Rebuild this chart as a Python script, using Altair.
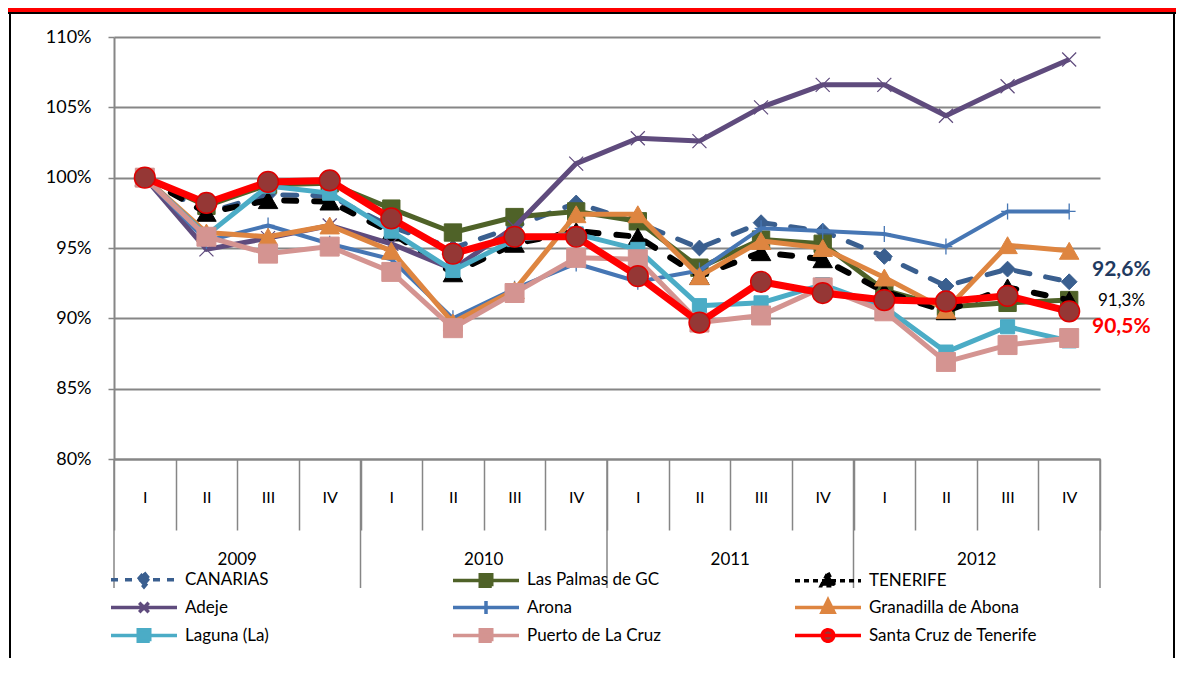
import altair as alt
import pandas as pd

# ---------------- data ----------------
QUARTERS = ["I", "II", "III", "IV"]
YEARS = ["2009", "2010", "2011", "2012"]
KEYS = [f"{y}-{q}" for y in YEARS for q in QUARTERS]

SERIES = ["CANARIAS", "Las Palmas de GC", "TENERIFE", "Adeje", "Arona",
          "Granadilla de Abona", "Laguna (La)", "Puerto de La Cruz",
          "Santa Cruz de Tenerife"]

canarias = [100.0, 97.5, 98.8, 98.7, 96.5, 95.0, 96.5, 98.2, 96.8, 95.0, 96.8, 96.2, 94.4, 92.3, 93.5, 92.6]
las_palmas = [100.0, 98.0, 99.5, 99.6, 97.8, 96.1, 97.2, 97.6, 96.9, 93.6, 95.6, 95.3, 92.0, 90.8, 91.1, 91.3]
tenerife = [100.0, 97.5, 98.4, 98.3, 96.1, 93.2, 95.3, 96.2, 95.8, 93.0, 94.7, 94.2, 91.9, 90.5, 92.2, 91.3]
adeje = [100.0, 94.9, 95.7, 96.6, 95.3, 93.5, 96.5, 101.0, 102.8, 102.6, 105.0, 106.6, 106.6, 104.4, 106.5, 108.4]
arona = [100.0, 95.5, 96.6, 95.3, 94.2, 90.0, 92.1, 93.9, 92.6, 93.4, 96.4, 96.2, 96.0, 95.1, 97.6, 97.6]
granadilla = [100.0, 96.1, 95.8, 96.6, 94.8, 89.7, 92.0, 97.4, 97.4, 93.0, 95.5, 95.0, 92.9, 90.6, 95.2, 94.8]
laguna = [100.0, 95.9, 99.4, 98.9, 96.2, 93.4, 95.6, 96.0, 94.9, 90.9, 91.1, 92.4, 90.8, 87.6, 89.4, 88.4]
puerto = [100.0, 95.8, 94.6, 95.1, 93.3, 89.3, 91.8, 94.3, 94.2, 89.7, 90.2, 92.2, 90.5, 86.9, 88.1, 88.6]
santa_cruz = [100.0, 98.2, 99.7, 99.8, 97.1, 94.6, 95.8, 95.8, 93.0, 89.7, 92.6, 91.8, 91.3, 91.2, 91.6, 90.5]

VALUES = [canarias, las_palmas, tenerife, adeje, arona, granadilla, laguna, puerto, santa_cruz]

# labelled end values
ANNOT_SERIES = ["CANARIAS", "TENERIFE", "Santa Cruz de Tenerife"]

# ---------------- styles ----------------
XPATH = "M-1,-1L1,1M-1,1L1,-1"
PLUSPATH = "M-0.8,0H0.8M0,-1V1"
STYLE = {
    "CANARIAS": dict(color="#3A5F8F", width=5, dash=[14, 16], shape="diamond", size=250,
                     fill="#3A5F8F", mstroke="#3A5F8F", mw=1, filled=True),
    "Las Palmas de GC": dict(color="#4F6228", width=5, dash=None, shape="square", size=300,
                             fill="#4F6228", mstroke="#4F6228", mw=1, filled=True),
    "TENERIFE": dict(color="#000000", width=6, dash=[12, 18], shape="triangle-up", size=380,
                     fill="#000000", mstroke="#000000", mw=1, filled=True),
    "Adeje": dict(color="#5F4B7D", width=5, dash=None, shape=XPATH, size=196,
                  fill=None, mstroke="#5F4B7D", mw=1.2, filled=False),
    "Arona": dict(color="#4676B4", width=4, dash=None, shape=PLUSPATH, size=256,
                  fill=None, mstroke="#4676B4", mw=1.3, filled=False),
    "Granadilla de Abona": dict(color="#DE8540", width=5, dash=None, shape="triangle-up", size=380,
                                fill="#DE8540", mstroke="#DE8540", mw=1, filled=True),
    "Laguna (La)": dict(color="#4BACC6", width=5, dash=None, shape="square", size=200,
                        fill="#4BACC6", mstroke="#4BACC6", mw=1, filled=True),
    "Puerto de La Cruz": dict(color="#D49491", width=5, dash=None, shape="square", size=360,
                              fill="#D49491", mstroke="#D49491", mw=1, filled=True),
    "Santa Cruz de Tenerife": dict(color="#FF0000", width=7, dash=None, shape="circle", size=430,
                                   fill="#953735", mstroke="#E00000", mw=1.5, filled=True),
}

# legend symbols: a 66px line with the marker in its middle (1 unit = 5px)
LEG_LINE = "M-6.6,0H6.6"
LEG_MARK = {
    "CANARIAS": "M0,-1.4L1.2,0L0,1.4L-1.2,0Z",
    "Las Palmas de GC": "M-1.15,-1.15H1.15V1.15H-1.15Z",
    "TENERIFE": "M0,-1.6L1.35,1H-1.35Z",
    "Adeje": "M-0.95,-0.95L0.95,0.95M-0.95,0.95L0.95,-0.95",
    "Arona": "M0,-1.3V1.3",
    "Granadilla de Abona": "M0,-1.5L1.2,0.95H-1.2Z",
    "Laguna (La)": "M-1.15,-1.15H1.15V1.15H-1.15Z",
    "Puerto de La Cruz": "M-1.15,-1.15H1.15V1.15H-1.15Z",
    "Santa Cruz de Tenerife": "M1.15,0A1.15,1.15,0,1,1,-1.15,0A1.15,1.15,0,1,1,1.15,0Z",
}
LEG_DASH = {"CANARIAS": [7, 7], "TENERIFE": [5, 4]}

GRAY = "#868686"
FONT = "Lato"
W, H = 986, 422
PAD_L, PAD_T, PAD_R, PAD_B = 106, 29, 76, 199

# ---------------- tables ----------------
rows = []
for name, vals in zip(SERIES, VALUES):
    for k, v in zip(KEYS, vals):
        rows.append({"series": name, "key": k, "value": v})
df = pd.DataFrame(rows)

x_scale = alt.Scale(type="band", domain=KEYS, paddingInner=0, paddingOuter=0)
y_scale = alt.Scale(domain=[80, 110], nice=False, zero=False)
x_axis = alt.Axis(title=None, labelExpr="split(datum.label, '-')[1]", labelAngle=0,
                  tickBand="extent", tickSize=71, tickColor=GRAY, tickWidth=1.5,
                  domainColor=GRAY, domainWidth=2, labelPadding=-33,
                  labelBaseline="middle", labelFont=FONT, labelFontSize=16,
                  labelColor="black", grid=False, labelOverlap=False)
y_axis = alt.Axis(title=None, values=[80, 85, 90, 95, 100, 105, 110],
                  labelExpr="datum.value + '%'", grid=True, gridColor=GRAY, gridWidth=2,
                  domainColor=GRAY, domainWidth=2, tickColor=GRAY, tickSize=6,
                  tickWidth=1.5, labelPadding=17, labelFont=FONT, labelFontSize=18,
                  labelColor="black")

X = alt.X("key:O", scale=x_scale, axis=x_axis)
Y = alt.Y("value:Q", scale=y_scale, axis=y_axis)

layers = []

# year dividers and labels (second level of the category axis)
year_start = pd.DataFrame({"key": [f"{y}-I" for y in YEARS]})
year_end = pd.DataFrame({"key": [KEYS[-1]]})
year_lab = pd.DataFrame({"key": [f"{y}-II" for y in YEARS], "year": YEARS})

layers.append(alt.Chart(year_start).mark_rule(color=GRAY, strokeWidth=1.5).encode(
    x=alt.X("key:O", scale=x_scale, axis=x_axis, bandPosition=0),
    y=alt.value(H), y2=alt.value(H + 129)))
layers.append(alt.Chart(year_end).mark_rule(color=GRAY, strokeWidth=1.5).encode(
    x=alt.X("key:O", scale=x_scale, axis=x_axis, bandPosition=1),
    y=alt.value(H), y2=alt.value(H + 129)))
layers.append(alt.Chart(year_lab).mark_text(font=FONT, fontSize=17, color="black",
                                            baseline="middle", align="center").encode(
    x=alt.X("key:O", scale=x_scale, axis=x_axis, bandPosition=1),
    y=alt.value(H + 101), text="year:N"))

# series, drawn one after the other (line, then its markers)
for name in SERIES:
    st = STYLE[name]
    sub = df[df.series == name]
    line_kw = dict(color=st["color"], strokeWidth=st["width"], strokeJoin="round")
    if st["dash"]:
        line_kw["strokeDash"] = st["dash"]
        line_kw["strokeCap"] = "round"
    layers.append(alt.Chart(sub).mark_line(**line_kw).encode(x=X, y=Y))
    pt_kw = dict(shape=st["shape"], size=st["size"], stroke=st["mstroke"],
                 strokeWidth=st["mw"], opacity=1, filled=st["filled"])
    if st["filled"]:
        pt_kw["fill"] = st["fill"]
        pt_kw["fillOpacity"] = 1
    else:
        pt_kw["fillOpacity"] = 0
    layers.append(alt.Chart(sub).mark_point(**pt_kw).encode(x=X, y=Y))

# end-value labels
ann = df[(df.key == KEYS[-1]) & (df.series.isin(ANNOT_SERIES))].copy()
ann["label"] = ann["value"].map(lambda v: f"{v:.1f}%".replace(".", ","))
ANN_STYLE = {
    "CANARIAS": dict(color="#1F3A60", fontSize=21, fontWeight="bold", dx=-8, dy=-12),
    "TENERIFE": dict(color="#000000", fontSize=17, fontWeight="normal", dx=-2, dy=1),
    "Santa Cruz de Tenerife": dict(color="#FF0000", fontSize=21, fontWeight="bold", dx=-8, dy=16),
}
for name in ANNOT_SERIES:
    s = ANN_STYLE[name]
    layers.append(alt.Chart(ann[ann.series == name]).mark_text(
        font=FONT, align="left", baseline="middle", **s).encode(
        x=alt.X("key:O", scale=x_scale, axis=x_axis, bandPosition=1), y=Y, text="label:N"))

# legend (built by Vega-Lite from an invisible layer)
leg = alt.Legend(title=None, orient="none", legendX=21.5, legendY=534, columns=3,
                 direction="horizontal",
                 columnPadding=92, rowPadding=-1, gridAlign="all", padding=0,
                 symbolSize=100, symbolStrokeWidth=3.5, symbolOpacity=1,
                 labelFont=FONT, labelFontSize=17, labelColor="black", labelOffset=32.5,
                 labelLimit=400, labelBaseline="middle")
leg_df = pd.DataFrame({"series": SERIES})
dom = SERIES
layers.append(alt.Chart(leg_df).mark_point(opacity=0, filled=True).encode(
    fill=alt.Fill("series:N", scale=alt.Scale(domain=dom, range=[STYLE[s]["fill"] or STYLE[s]["color"] for s in dom]), legend=leg),
    stroke=alt.Stroke("series:N", scale=alt.Scale(domain=dom, range=[STYLE[s]["color"] for s in dom]), legend=leg),
    shape=alt.Shape("series:N", scale=alt.Scale(domain=dom, range=[LEG_LINE + LEG_MARK[s] for s in dom]), legend=leg),
    strokeDash=alt.StrokeDash("series:N", scale=alt.Scale(domain=dom, range=[LEG_DASH.get(s, [1, 0]) for s in dom]), legend=leg),
))

# outer frame of the original picture
one = pd.DataFrame({"a": [0]})
TOTAL_W = PAD_L + W + PAD_R
TOTAL_H = PAD_T + H + PAD_B
layers.append(alt.Chart(one).mark_rect(color="#FF0000").encode(
    x=alt.value(-PAD_L), x2=alt.value(TOTAL_W - PAD_L), y=alt.value(-PAD_T), y2=alt.value(-PAD_T + 4)))
layers.append(alt.Chart(one).mark_rule(color="black", strokeWidth=2).encode(
    x=alt.value(-PAD_L), x2=alt.value(TOTAL_W - PAD_L), y=alt.value(-PAD_T + 5)))
layers.append(alt.Chart(one).mark_rule(color="black", strokeWidth=2).encode(
    x=alt.value(-PAD_L + 2), y=alt.value(-PAD_T + 4), y2=alt.value(TOTAL_H)))
layers.append(alt.Chart(one).mark_rule(color="black", strokeWidth=2).encode(
    x=alt.value(TOTAL_W - PAD_L - 2), y=alt.value(-PAD_T + 4), y2=alt.value(TOTAL_H)))

chart = alt.layer(*layers).properties(
    width=W, height=H,
    autosize=alt.AutoSizeParams(type="none"),
    padding={"left": PAD_L, "top": PAD_T, "right": PAD_R, "bottom": PAD_B},
    background="white",
).configure_view(stroke=None).configure_text(font=FONT)

chart.save("out.html", embed_options={"renderer": "svg", "actions": False})
